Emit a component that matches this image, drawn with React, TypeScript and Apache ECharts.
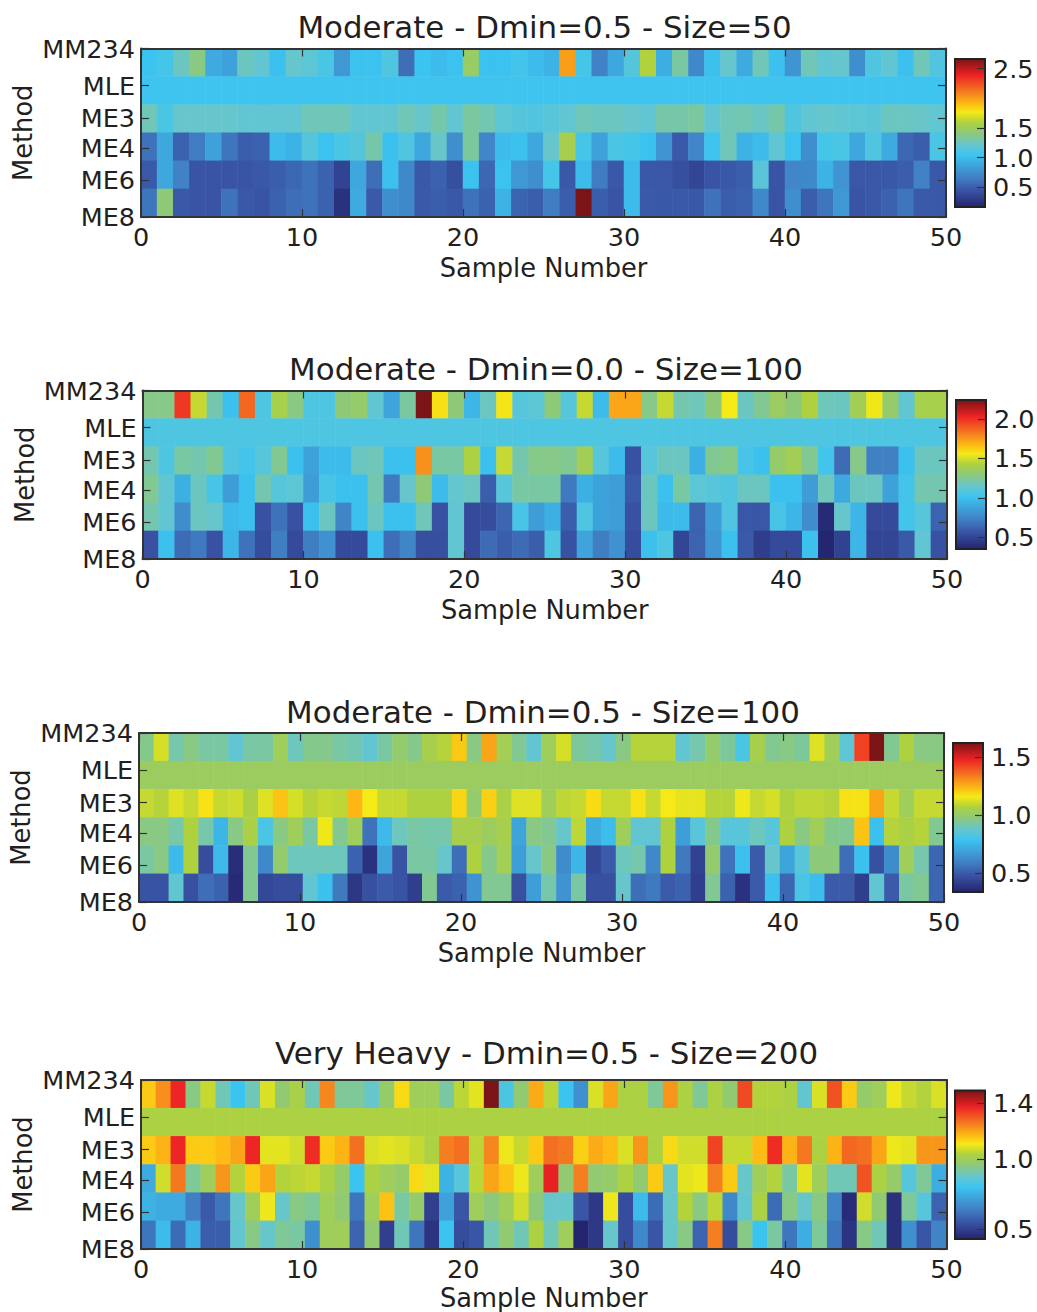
import React, { useEffect, useRef } from "react";
import * as echarts from "echarts";

const rowNames = ["MM234", "MLE", "ME3", "ME4", "ME6", "ME8"];
const rowTickPositions = [0, 1.1, 2.06, 2.96, 3.91, 5];

const p1MM234 = [1.04,1.08,1.25,1.4,.9,.85,1.25,1.2,1.02,1.22, 1.18,1.1,.8,1.03,1.03,1.12,.58,1.04,1.0,1.03, 1.48,1.03,1.03,1.07,1.0,.95,2.0,1.08,.68,.88, 1.15,1.6,.92,1.32,.72,1.02,1.22,.9,1.27,1.02, .78,1.27,1.2,1.22,.75,1.12,1.2,1.02,1.27,1.13];
const p1MLE = [1.05,1.05,1.05,1.05,1.05,1.05,1.05,1.05,1.05,1.05, 1.05,1.05,1.05,1.05,1.05,1.05,1.05,1.05,1.05,1.05, 1.05,1.05,1.05,1.05,1.05,1.05,1.05,1.05,1.05,1.05, 1.05,1.05,1.05,1.05,1.05,1.05,1.05,1.05,1.05,1.05, 1.05,1.05,1.05,1.05,1.05,1.05,1.05,1.05,1.05,1.05];
const p1ME3 = [1.27,1.1,1.22,1.22,1.22,1.22,1.2,1.2,1.2,1.2, 1.27,1.27,1.27,1.2,1.2,1.2,1.27,1.22,1.3,1.2, 1.33,1.28,1.18,1.15,1.13,1.16,1.2,1.27,1.25,1.25, 1.22,1.2,1.3,1.3,1.33,1.2,1.27,1.28,1.24,1.3, 1.12,1.2,1.22,1.2,1.18,1.17,1.25,1.25,1.23,1.2];
const p1ME4 = [.6,.88,.52,.65,.85,.62,.5,.52,1.0,.95, 1.15,1.03,1.1,1.15,1.3,1.02,1.12,.88,1.23,.75, 1.33,.7,1.0,1.02,.88,1.22,1.55,1.08,.85,1.1, 1.08,1.03,.78,.48,.7,1.05,1.27,.95,1.0,1.2, 1.03,.75,1.08,1.1,.88,1.12,.9,.55,.5,1.1];
const p1ME6 = [.48,.88,.68,.45,.45,.45,.45,.47,.5,.55, .6,.52,.35,.88,.58,1.02,.72,.47,.52,.42, 1.03,.55,1.03,.8,.75,1.08,.47,1.0,.65,.47, 1.0,.47,.46,.42,.37,.45,.47,.5,1.17,.45, .7,.72,.95,.78,.46,.46,.47,.5,.68,.47];
const p1ME8 = [.62,1.42,.47,.45,.45,.6,.47,.45,.52,.58, .6,.52,.25,.9,.48,.75,.72,.48,.5,.47, .6,.52,.95,.53,.5,.65,.5,2.66,.5,.45, 1.0,.48,.47,.48,.47,.6,.5,.52,.72,.45, .75,.5,.62,.8,.45,.47,.52,.62,.48,.47];

const p2MM234 = [1.27,1.27,1.98,1.47,1.2,1.0,1.87,1.07,1.4,1.28, 1.07,1.07,1.3,1.33,1.13,.88,1.23,2.24,1.58,1.3, .95,1.17,1.57,1.1,1.12,1.3,1.1,1.47,.98,1.72, 1.72,1.27,1.47,1.2,1.18,1.3,1.56,1.17,1.25,1.35, 1.3,1.43,1.18,1.17,1.38,1.55,1.33,1.13,1.4,1.4];
const p2MLE = [1.07,1.07,1.07,1.07,1.07,1.07,1.07,1.07,1.07,1.07, 1.07,1.07,1.07,1.07,1.07,1.07,1.07,1.07,1.07,1.07, 1.07,1.07,1.07,1.07,1.07,1.07,1.07,1.07,1.07,1.07, 1.07,1.07,1.07,1.07,1.07,1.07,1.07,1.07,1.07,1.07, 1.07,1.07,1.07,1.07,1.07,1.07,1.07,1.07,1.07,1.07];
const p2ME3 = [1.2,1.07,1.22,1.2,1.25,1.08,1.03,1.1,1.25,1.0, .87,.98,.98,1.17,1.18,1.0,1.0,1.77,1.22,1.22, 1.42,1.0,1.47,1.2,1.27,1.27,1.25,1.38,1.1,.98, .55,1.1,1.17,1.17,.93,1.25,1.27,1.05,1.0,1.33, 1.38,1.25,1.03,.65,1.27,.73,.73,1.0,1.17,1.17];
const p2ME4 = [1.25,1.13,.93,1.17,1.05,.85,1.0,1.2,1.1,1.12, .85,1.05,1.0,1.0,1.2,.7,1.15,1.3,.98,1.14, 1.17,.6,1.1,1.22,1.22,1.22,.7,.93,.87,.85, .58,1.17,1.0,1.22,1.12,1.1,1.08,1.17,1.17,1.0, 1.0,.85,1.18,.9,1.17,1.17,.87,1.03,1.2,1.2];
const p2ME6 = [1.2,1.13,.78,1.17,1.15,.97,1.0,.55,.68,.55, 1.0,1.17,.75,1.0,1.17,1.0,1.0,1.18,.55,1.13, .52,.53,.63,1.05,.85,.93,.6,1.07,.87,.85, .55,1.17,.97,.98,.62,.85,1.08,.57,.57,1.05, .95,.78,.38,1.15,.95,.52,.52,1.03,1.1,.62];
const p2ME8 = [.55,1.0,.65,.7,.55,.95,.68,.53,.72,.52, .72,.8,.52,.52,1.0,.66,.75,.54,.54,1.13, .52,.65,.6,.65,.6,1.07,.55,.88,.72,.8, .53,1.0,1.07,.5,.62,.82,1.0,.58,.46,.52, .52,1.0,.36,.48,.95,.5,.5,.58,1.13,.55];

const p3MM234 = [.96,1.12,.92,.97,.93,.93,.87,.93,.93,1.03, .9,.96,.96,.93,.91,.87,.93,1.0,.96,1.05, 1.08,1.21,.97,1.27,1.04,.95,.87,1.03,1.12,.94, .92,.88,.97,1.08,1.08,1.08,.87,.92,1.0,.94, .82,1.05,.95,.97,.94,1.13,1.03,.86,1.43,1.62, .95,1.07,.97,.97];
const p3MLE = [1.02,1.02,1.02,1.02,1.02,1.02,1.02,1.02,1.02,1.02, 1.02,1.02,1.02,1.02,1.02,1.02,1.02,1.02,1.02,1.02, 1.02,1.02,1.02,1.02,1.02,1.02,1.02,1.02,1.02,1.02, 1.02,1.02,1.02,1.02,1.02,1.02,1.02,1.02,1.02,1.02, 1.02,1.02,1.02,1.02,1.02,1.02,1.02,1.02,1.02,1.02, 1.02,1.02,1.02,1.02];
const p3ME3 = [1.1,1.08,1.13,1.1,1.17,1.1,1.11,1.06,1.13,1.22, 1.12,1.08,1.1,1.09,1.24,1.16,1.1,1.1,1.07,1.07, 1.07,1.19,1.0,1.2,1.06,1.13,1.13,1.03,1.09,1.1, 1.18,1.1,1.1,1.17,1.1,1.16,1.14,1.14,1.08,1.08, 1.15,1.1,1.12,1.07,1.09,1.09,1.08,1.17,1.17,1.27, 1.1,1.03,1.1,1.1];
const p3ME4 = [.97,.97,.92,1.07,.92,.75,.97,1.06,.82,.97, 1.03,.93,1.15,.95,1.03,.56,.76,.9,.93,.92, .92,1.05,1.05,1.02,1.05,.7,.97,.95,.88,1.09, .72,.77,1.03,.87,.87,1.07,.68,.85,.96,.85, .85,.9,.85,1.07,.97,1.03,.96,.95,1.22,.78, 1.08,1.06,1.08,.95];
const p3ME6 = [.93,.97,.76,1.07,.46,.76,.37,.95,.62,1.0, .9,.9,.9,.9,.52,.38,.7,.48,.93,.93, .88,.55,1.07,.96,1.04,.68,.88,.97,.63,.75, .45,.5,.9,.92,.62,1.07,.58,.43,1.0,.56, .78,.5,.88,.7,.85,.98,.98,.55,.78,.47, .63,1.03,.92,.53];
const p3ME8 = [.48,.48,.87,.47,.55,.52,.36,.95,.45,.46, .46,.87,.78,.58,.4,.47,.5,.48,.42,.95, .5,.52,.65,.95,.95,.47,.68,.92,.65,.93, .47,.47,.88,.55,.58,.5,.52,.42,.95,.52, .38,.5,.78,.53,.82,.77,.5,.5,.42,.87, .5,.93,.95,.53];

const p4MM234 = [1.15,1.23,1.37,.95,1.06,.9,.8,.9,1.08,.97, 1.02,.9,1.24,.93,.93,.88,.98,1.13,1.0,1.0, .92,1.05,1.09,1.49,.83,.97,1.19,1.05,.8,.68, 1.08,1.2,1.03,1.03,.93,1.22,1.03,.93,1.03,.97, 1.32,1.04,1.04,1.03,.87,1.08,1.31,1.15,.98,1.0, 1.1,1.06,1.04,1.08];
const p4MLE = [1.03,1.03,1.03,1.03,1.03,1.03,1.03,1.03,1.03,1.03, 1.03,1.03,1.03,1.03,1.03,1.03,1.03,1.03,1.03,1.03, 1.03,1.03,1.03,1.03,1.03,1.03,1.03,1.03,1.03,1.03, 1.03,1.03,1.03,1.03,1.03,1.03,1.03,1.03,1.03,1.03, 1.03,1.03,1.03,1.03,1.03,1.03,1.03,1.03,1.03,1.03, 1.03,1.03,1.03,1.03];
const p4ME3 = [1.15,1.18,1.37,1.15,1.15,1.17,1.2,1.37,1.09,1.09, 1.07,1.36,1.15,1.18,1.27,1.08,1.09,1.08,1.06,1.03, 1.25,1.27,1.05,1.24,1.1,1.06,1.15,1.27,1.26,1.14, 1.19,1.17,1.08,1.22,1.03,1.13,1.07,1.07,1.33,1.06, 1.06,1.17,1.36,1.18,1.26,1.03,1.18,1.28,1.27,1.2, 1.1,1.09,1.22,1.22];
const p4ME4 = [.74,1.07,1.26,.93,1.0,1.22,1.04,1.15,1.2,1.04, 1.05,1.06,1.03,.98,.8,1.03,1.0,.98,1.13,1.09, .76,.85,1.05,1.2,1.16,1.1,1.0,1.38,.97,1.25, .97,.98,1.03,.97,1.15,.88,1.09,1.1,1.25,1.15, .88,1.0,1.04,.92,1.09,1.0,.9,.9,1.31,1.03, .98,.85,.93,.75];
const p4ME6 = [.76,.74,.74,.64,.56,.62,.88,1.0,1.1,.88, .95,.93,1.0,.97,.62,1.0,1.16,.92,.98,.5, .72,.55,1.0,.96,1.0,1.07,.96,.88,.88,.55, .48,1.1,.53,.78,.6,.88,1.04,.95,1.05,.66, .87,1.03,.6,.95,.88,.95,.65,.45,1.07,.97, .46,.93,.85,.58];
const p4ME8 = [.62,.78,.6,.76,.57,.57,.87,.95,.88,.93, .92,.68,1.0,1.0,.58,.97,.5,.9,.62,.47, .8,.53,.55,.9,.97,.9,1.03,.9,1.0,.43, .48,.88,.53,.66,.55,.88,.95,.58,1.25,.53, .95,.8,.92,.62,.75,.93,.62,.47,.95,.9, .46,.68,.55,.65];

const titles = [
  "Moderate - Dmin=0.5 - Size=50",
  "Moderate - Dmin=0.0 - Size=100",
  "Moderate - Dmin=0.5 - Size=100",
  "Very Heavy - Dmin=0.5 - Size=200",
];
const panelRows = [
  [p1MM234, p1MLE, p1ME3, p1ME4, p1ME6, p1ME8],
  [p2MM234, p2MLE, p2ME3, p2ME4, p2ME6, p2ME8],
  [p3MM234, p3MLE, p3ME3, p3ME4, p3ME6, p3ME8],
  [p4MM234, p4MLE, p4ME3, p4ME4, p4ME6, p4ME8],
];
const colorMins = [0.17, 0.35, 0.34, 0.43];
const colorMaxs = [2.66, 2.24, 1.62, 1.49];
const colorTicks = [
  [0.5, 1.0, 1.5, 2.5],
  [0.5, 1.0, 1.5, 2.0],
  [0.5, 1.0, 1.5],
  [0.5, 1.0, 1.4],
];

// layout: [left, top, right, bottom] in page pixels
const plotBoxes = [
  [141, 48.5, 946, 217],
  [142.5, 390.5, 947, 559],
  [139, 733, 944, 902],
  [141, 1080, 946.5, 1249],
];
const barBoxes = [
  [955, 59, 985, 207],
  [956, 400, 986, 549],
  [953, 743, 983, 892],
  [955, 1090.5, 985, 1239],
];
const titleCenterX = [544.5, 546, 543, 546.5];
const titleY = [11, 353, 696, 1037];
const sampleNameGap = [37.5, 37.5, 37.5, 36];
const INK = "#231f20";
const FONT = "DejaVu Sans";

const colorStops: [number, string][] = [
  [0, "#24246f"],
  [0.11, "#3953a4"],
  [0.2, "#4080c4"],
  [0.35, "#3cc4f0"],
  [0.42, "#65c6ce"],
  [0.5, "#8dc97a"],
  [0.57, "#aed140"],
  [0.64, "#f5e916"],
  [0.7, "#fdb913"],
  [0.77, "#f58220"],
  [0.89, "#ed2224"],
  [1, "#7a1416"],
];

function paletteAt(t: number): string {
  let i = 0;
  while (i < colorStops.length - 2 && t > colorStops[i + 1][0]) i++;
  const [t0, c0] = colorStops[i];
  const [t1, c1] = colorStops[i + 1];
  const f = (t - t0) / (t1 - t0);
  const ch = (c: string, k: number) => parseInt(c.slice(1 + 2 * k, 3 + 2 * k), 16);
  const mix = [0, 1, 2].map((k) => Math.round(ch(c0, k) + (ch(c1, k) - ch(c0, k)) * f));
  return `rgb(${mix.join(",")})`;
}
const palette = Array.from({ length: 101 }, (_, k) => paletteAt(k / 100));

function buildOption() {
  const grid: any[] = [];
  const xAxis: any[] = [];
  const yAxis: any[] = [];
  const series: any[] = [];
  const visualMap: any[] = [];
  const title: any[] = [];

  const frameLine = { show: true, onZero: false, lineStyle: { color: "#333", width: 2 } };
  const tickStyle = { show: true, inside: true, length: 8, lineStyle: { color: "#333", width: 1.2 } };

  titles.forEach((text, p) => {
    const [l, t, r, b] = plotBoxes[p];
    const rows = panelRows[p];
    const nCols = rows[0].length;
    title.push({
      text,
      left: titleCenterX[p],
      top: titleY[p],
      padding: 0,
      textAlign: "center",
      textStyle: { fontFamily: FONT, fontSize: 30.9, fontWeight: "normal", color: INK },
    });

    const g = grid.length;
    grid.push({ left: l, top: t, width: r - l, height: b - t, outerBoundsMode: "none" });
    const xCat = xAxis.length;
    xAxis.push({
      gridIndex: g, type: "category", show: false,
      data: Array.from({ length: nCols }, (_, i) => String(i)),
    });
    xAxis.push({
      gridIndex: g, type: "value", position: "bottom", min: 0, max: 50, interval: 10, z: 10,
      axisLine: frameLine,
      axisTick: tickStyle,
      splitLine: { show: false },
      axisLabel: { fontFamily: FONT, fontSize: 25.5, color: INK, margin: 7 },
      name: "Sample Number",
      nameLocation: "middle",
      nameMoveOverlap: false,
      nameGap: sampleNameGap[p],
      nameTextStyle: { fontFamily: FONT, fontSize: 25.7, color: INK },
    });
    xAxis.push({
      gridIndex: g, type: "value", position: "top", min: 0, max: 50, interval: 10, z: 10,
      axisLine: frameLine, axisTick: tickStyle, splitLine: { show: false }, axisLabel: { show: false },
    });
    const yCat = yAxis.length;
    yAxis.push({ gridIndex: g, type: "category", show: false, inverse: true, data: rowNames });
    yAxis.push({
      gridIndex: g, type: "value", position: "left", min: 0, max: 5, inverse: true, z: 10,
      axisLine: frameLine,
      axisTick: { ...tickStyle, customValues: rowTickPositions },
      splitLine: { show: false },
      axisLabel: {
        fontFamily: FONT, fontSize: 25.5, color: INK, margin: 6, padding: [2, 0, 0, 0],
        customValues: rowTickPositions,
        formatter: (v: number) => rowNames[rowTickPositions.indexOf(v)] ?? "",
      },
      name: "Method",
      nameLocation: "middle",
      nameMoveOverlap: false,
      nameGap: 105,
      nameTextStyle: { fontFamily: FONT, fontSize: 25.7, color: INK },
    });
    yAxis.push({
      gridIndex: g, type: "value", position: "right", min: 0, max: 5, inverse: true, z: 10,
      axisLine: frameLine,
      axisTick: { ...tickStyle, customValues: rowTickPositions },
      splitLine: { show: false },
      axisLabel: { show: false },
    });

    const cells: number[][] = [];
    rows.forEach((vals, rowIdx) => vals.forEach((v, colIdx) => cells.push([colIdx, rowIdx, v])));
    const seriesIndex = series.length;
    series.push({
      type: "heatmap",
      xAxisIndex: xCat,
      yAxisIndex: yCat,
      data: cells,
      progressive: 0,
      itemStyle: { borderWidth: 0 },
      emphasis: { disabled: true },
    });
    visualMap.push({
      show: false,
      seriesIndex,
      dimension: 2,
      min: colorMins[p],
      max: colorMaxs[p],
      inRange: { color: palette },
    });

    // colour bar
    const [bl, bt, br, bb] = barBoxes[p];
    const gb = grid.length;
    grid.push({ left: bl, top: bt, width: br - bl, height: bb - bt, outerBoundsMode: "none" });
    const xb = xAxis.length;
    xAxis.push({ gridIndex: gb, type: "value", show: false, min: 0, max: 1 });
    const yb = yAxis.length;
    yAxis.push({
      gridIndex: gb, type: "value", position: "right", min: colorMins[p], max: colorMaxs[p], z: 10,
      axisLine: { show: false, onZero: false },
      axisTick: { show: true, inside: true, length: 8, lineStyle: { color: "#333", width: 1.2 }, customValues: colorTicks[p] },
      splitLine: { show: false },
      axisLabel: {
        fontFamily: FONT, fontSize: 25.5, color: INK, margin: 8, padding: [2, 0, 0, 0],
        customValues: colorTicks[p],
        formatter: (v: number) => v.toFixed(1),
      },
    });
    const yMin = colorMins[p];
    const yMax = colorMaxs[p];
    series.push({
      type: "custom",
      xAxisIndex: xb,
      yAxisIndex: yb,
      data: [[0, yMin]],
      silent: true,
      renderItem: (_: any, api: any) => {
        const a = api.coord([0, yMax]);
        const c = api.coord([1, yMin]);
        return {
          type: "rect",
          shape: { x: a[0], y: a[1], width: c[0] - a[0], height: c[1] - a[1] },
          style: {
            fill: new echarts.graphic.LinearGradient(
              0, 0, 0, 1,
              colorStops.map(([t0, color]) => ({ offset: 1 - t0, color })).reverse()
            ),
            stroke: "#222",
            lineWidth: 2,
          },
        };
      },
    });
  });

  return { animation: false, backgroundColor: "#fff", title, grid, xAxis, yAxis, series, visualMap, tooltip: { show: false } };
}

export default function App() {
  const ref = useRef<HTMLDivElement>(null);
  useEffect(() => {
    document.body.style.margin = "0";
    const chart = echarts.init(ref.current!, undefined, { renderer: "svg" });
    chart.setOption(buildOption() as any);
    return () => chart.dispose();
  }, []);
  return <div ref={ref} style={{ width: 1037, height: 1312 }} />;
}
